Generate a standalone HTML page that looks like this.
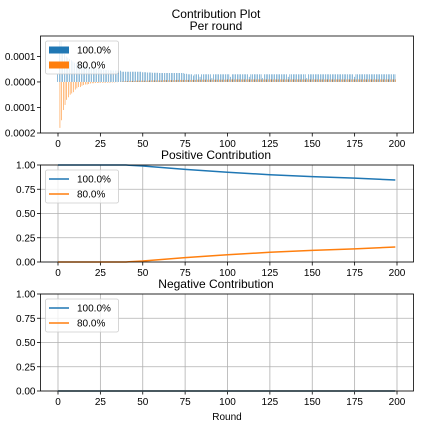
<!DOCTYPE html>
<html><head><meta charset="utf-8"><style>
body{margin:0;background:#fff}
svg text{font-family:"Liberation Sans","DejaVu Sans",sans-serif;fill:#000}
</style></head><body>
<svg id="c" width="432" height="432" xmlns="http://www.w3.org/2000/svg"></svg>
<script>
const rounds=[];for(let i=0;i<200;i++)rounds.push(i);
// bar values in units of 1e-6
const blueVals=[30,160,160,130,110,100,95,90,85,80,75,72,70,68,66,64,62,60,58,56,55,54,53,52,51,50,48,48,47,47,46,46,45,45,45,45,44,44,40,40,40,40,40,40,40,40,40,40,40,40,38,38,38,37,37,37,36,36,36,36,35,35,35,35,35,35,35,35,35,35,35,35,35,35,35,32,32,30,30,30,25,30,30,30,20,30,30,30,30,30,30,15,30,30,30,30,30,30,30,30,30,30,20,30,30,30,30,30,30,30,30,30,30,20,30,30,30,30,30,30,30,15,30,30,30,30,30,30,30,30,30,30,30,30,30,30,20,30,30,30,30,30,30,30,30,30,30,15,30,30,30,30,30,30,30,30,30,30,30,30,30,30,30,30,30,30,30,30,30,30,30,30,30,30,30,20,30,30,30,30,30,30,30,30,30,30,30,30,30,30,30,30,30,30,30,30,30,30,30,30,30];
const orangeVals=[0,-180,-150,-110,-90,-70,-60,-50,-45,-40,-30,-25,-20,-20,-15,-12,-10,-10,-8,-6,-5,-5,-4,-4,-4,-3,-3,-3,-3,-3,-3,-2,-2,-2,-1,-1,0,1,2,3,3,3,4,4,4,4,5,5,5,5,5,5,5,5,6,6,6,6,6,6,6,6,7,7,7,7,7,7,7,7,8,8,8,8,8,8,8,8,8,8,8,8,9,9,9,9,9,9,9,9,9,9,9,9,9,9,9,9,9,9,10,10,10,10,10,10,10,10,10,10,10,10,10,10,10,10,10,10,10,10,10,10,10,10,10,10,10,10,10,10,10,10,10,10,10,10,10,10,10,10,10,10,10,10,10,10,10,10,10,10,10,10,10,10,10,10,10,10,10,10,10,10,10,10,10,10,10,10,10,10,10,10,10,10,10,10,10,10,10,10,10,10,10,10,10,10,10,10,10,10,10,10,10,10,10,10,10,10,10,10];
const posRounds=[0,25,40,50,75,100,125,150,175,199];
const posBlue=[1,1,1,0.99,0.955,0.925,0.9,0.88,0.865,0.845];
const posOrange=[0,0,0,0.01,0.045,0.075,0.1,0.12,0.135,0.155];
const negRounds=[0,199];
const negBlue=[0,0];
const negOrange=[0,0];
const xTicks=[0,25,50,75,100,125,150,175,200];
const barTicks=[0.0001,0,-0.0001,-0.0002];
const barTickLabels=["0.0001","0.0000","0.0001","0.0002"];
const lineTicks=[0,0.25,0.5,0.75,1];
const lineTickLabels=["0.00","0.25","0.50","0.75","1.00"];
const seriesNames=["100.0%","80.0%"];
const BLUE="#1f77b4",ORANGE="#ff7f0e";
const svg=document.getElementById('c');
const NS="http://www.w3.org/2000/svg";
function mk(tag,attrs,parent){const e=document.createElementNS(NS,tag);for(const k in attrs)e.setAttribute(k,attrs[k]);(parent||svg).appendChild(e);return e;}
const L=40.5,R=413.5;
const xs=v=>58+(v)*(397-58)/200;
function txt(x,y,s,anchor,size,name){const t=mk('text',{x:x,y:y,'text-anchor':anchor,'font-size':size});t.textContent=s;return t;}
txt(216,18,"Contribution Plot","middle",12,"figure-title");
function panel(top,bot,ymin,ymax,ticks,labels,title,grid,name,titleY){
  const g=mk('g',{});
  
  
  const ys=v=>bot-(v-ymin)*(bot-top)/(ymax-ymin);
  if(grid){
    xTicks.forEach(t=>{const l=mk('line',{x1:xs(t),x2:xs(t),y1:top,y2:bot,stroke:'#b0b0b0','stroke-width':0.8},g);});
    ticks.forEach(t=>{const l=mk('line',{x1:L,x2:R,y1:ys(t),y2:ys(t),stroke:'#b0b0b0','stroke-width':0.8},g);});
  }
  xTicks.forEach(t=>{mk('line',{x1:xs(t),x2:xs(t),y1:bot,y2:bot+3.5,stroke:'#000','stroke-width':0.8},g);const tt=txt(xs(t),bot+14,String(t),"middle",10,"x-tick-label");g.appendChild(tt);});
  ticks.forEach((t,i)=>{mk('line',{x1:L-3.5,x2:L,y1:ys(t),y2:ys(t),stroke:'#000','stroke-width':0.8},g);const tt=txt(L-5,ys(t)+3.5,labels[i],"end",10,"y-tick-label");g.appendChild(tt);});
  const tl=txt(216,titleY,title,"middle",12,"panel-title");g.appendChild(tl);
  return {g,ys,top,bot};
}
function frame(p){const r=mk('rect',{x:L,y:p.top,width:R-L,height:p.bot-p.top,fill:'none',stroke:'#000','stroke-width':0.8},p.g);}
function legend(p,isBar){
  const lg=mk('g',{},p.g);
  
  
  mk('rect',{x:45.5,y:p.top+5,width:73,height:33,fill:'#fff','fill-opacity':0.8,stroke:'#ccc','stroke-width':0.8,rx:2},lg);
  [BLUE,ORANGE].forEach((c,i)=>{
    const y=p.top+14+i*15;
    const e=mk('g',{},lg);
    
    
    if(isBar)mk('rect',{x:49,y:y-3.5,width:20,height:7,fill:c},e);
    else mk('line',{x1:49,x2:69,y1:y,y2:y,stroke:c,'stroke-width':1.5},e);
    const t=txt(77,y+3.5,seriesNames[i],"start",10,"legend-label");e.appendChild(t);
  });
}
const p1=panel(36,133,-0.0002,0.00018,barTicks,barTickLabels,"Per round",false,"per-round-panel",30);
const unit=1.695;
rounds.forEach((r,i)=>{
  [[blueVals,BLUE,-0.35,'bar-100'],[orangeVals,ORANGE,0.0,'bar-80']].forEach(([arr,c,off,nm])=>{
    const v=arr[i]*1e-6;if(v===0)return;
    const y0=p1.ys(0),y1=p1.ys(v);
    const b=mk('rect',{x:xs(r+off),y:Math.min(y0,y1),width:0.3*unit,height:Math.abs(y1-y0),fill:c},p1.g);
    
    
  });
});
frame(p1);legend(p1,true);
function lines(p,xr,arrs){
  arrs.forEach(([arr,c,nm])=>{
    const pl=mk('polyline',{points:xr.map((x,i)=>xs(x)+','+p.ys(arr[i])).join(' '),fill:'none',stroke:c,'stroke-width':1.5},p.g);
    
    
  });
}
const p2=panel(165,262,0,1,lineTicks,lineTickLabels,"Positive Contribution",true,"positive-panel",159);
lines(p2,posRounds,[[posBlue,BLUE,'line-100'],[posOrange,ORANGE,'line-80']]);frame(p2);legend(p2,false);
const p3=panel(294,391,0,1,lineTicks,lineTickLabels,"Negative Contribution",true,"negative-panel",288);
lines(p3,negRounds,[[negOrange,ORANGE,'line-80'],[negBlue,BLUE,'line-100']]);
frame(p3);legend(p3,false);
txt(227,420,"Round","middle",10,"x-axis-title");
</script>
</body></html>
